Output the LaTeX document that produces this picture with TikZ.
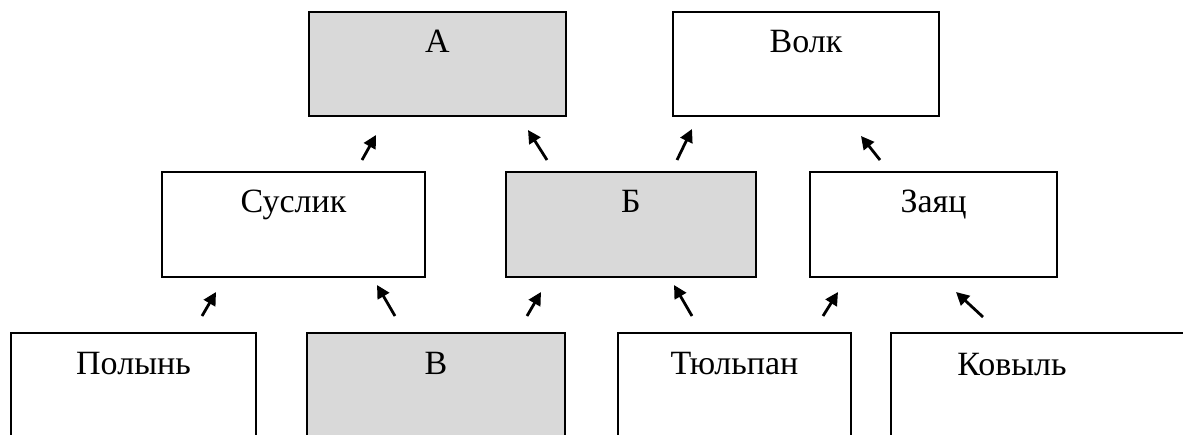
\documentclass[tikz,border=0pt]{standalone}
\usepackage{fontspec}
\setmainfont{Liberation Serif}
\usetikzlibrary{fit,arrows.meta}
\definecolor{boxgrey}{HTML}{D9D9D9}
\begin{document}
\begin{tikzpicture}[x=0.5pt,y=-0.5pt,
  box/.style={draw=black, line width=1pt, inner sep=0pt, fill=white},
  greybox/.style={box, fill=boxgrey},
  lbl/.style={anchor=base, inner sep=0pt, font=\fontsize{17}{20}\selectfont},
  arr/.style={line width=1.4pt, -{Triangle[length=6.5pt,width=6.5pt]}}]
\useasboundingbox (0,0) rectangle (1183,434);
\clip (0,0) rectangle (1183,434);
% top row
\node[greybox, fit={(309,12) (566,116)}] (A) {};
\node[box, fit={(673,12) (939,116)}] (volk) {};
% middle row
\node[box, fit={(162,172) (425,277)}] (suslik) {};
\node[greybox, fit={(506,172) (756,277)}] (B) {};
\node[box, fit={(810,172) (1057,277)}] (zayats) {};
% bottom row
\node[box, fit={(11,333) (256,480)}] (polyn) {};
\node[greybox, fit={(307,333) (565,480)}] (V) {};
\node[box, fit={(618,333) (851,480)}] (tyulpan) {};
\node[box, fit={(891,333) (1260,480)}] (kovyl) {};
% labels
\node[lbl] (tA) at ([yshift=-41*0.5pt]A.north) {А};
\node[lbl] (tvolk) at ([yshift=-41*0.5pt]volk.north) {Волк};
\node[lbl] (tsuslik) at ([yshift=-41*0.5pt]suslik.north) {Суслик};
\node[lbl] (tB) at ([yshift=-41*0.5pt]B.north) {Б};
\node[lbl] (tzayats) at ([yshift=-41*0.5pt]zayats.north) {Заяц};
\node[lbl] (tpolyn) at ([yshift=-42*0.5pt]polyn.north) {Полынь};
\node[lbl] (tV) at ([yshift=-42*0.5pt]V.north) {В};
\node[lbl] (ttyulpan) at ([yshift=-42*0.5pt]tyulpan.north) {Тюльпан};
\node[lbl] (tkovyl) at (1012,375) {Ковыль};
% arrow end points
\coordinate (a1t) at (362,160); \coordinate (a1h) at (376,135);
\coordinate (a2t) at (547,160); \coordinate (a2h) at (528,130);
\coordinate (a3t) at (677,160); \coordinate (a3h) at (692,129);
\coordinate (a4t) at (880,160); \coordinate (a4h) at (861,136);
\coordinate (a5t) at (202,316); \coordinate (a5h) at (216,292);
\coordinate (a6t) at (395,316); \coordinate (a6h) at (377,285);
\coordinate (a7t) at (527,316); \coordinate (a7h) at (541,292);
\coordinate (a8t) at (692,316); \coordinate (a8h) at (674,285);
\coordinate (a9t) at (823,316); \coordinate (a9h) at (838,292);
\coordinate (a10t) at (983,317); \coordinate (a10h) at (956,292);
\foreach \i in {1,...,10} {\draw[arr] (a\i t) -- (a\i h);}
\end{tikzpicture}
\end{document}
